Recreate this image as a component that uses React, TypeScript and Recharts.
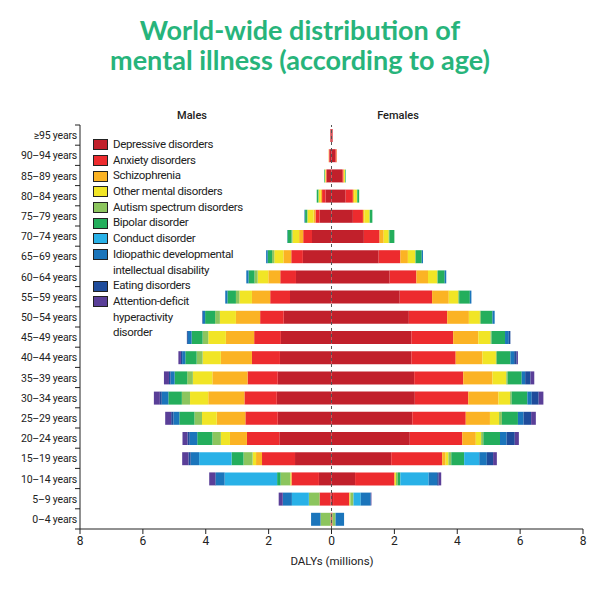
import React from 'react';
import { BarChart, Bar, XAxis, YAxis, ReferenceLine } from 'recharts';

// age groups, top to bottom
const ageGroups = [
  '≥95 years', '90–94 years', '85–89 years', '80–84 years', '75–79 years',
  '70–74 years', '65–69 years', '60–64 years', '55–59 years', '50–54 years',
  '45–49 years', '40–44 years', '35–39 years', '30–34 years', '25–29 years',
  '20–24 years', '15–19 years', '10–14 years', '5–9 years', '0–4 years',
];

const disorders = [
  'Depressive disorders', 'Anxiety disorders', 'Schizophrenia', 'Other mental disorders',
  'Autism spectrum disorders', 'Bipolar disorder', 'Conduct disorder',
  'Idiopathic developmental intellectual disability', 'Eating disorders',
  'Attention-deficit hyperactivity disorder',
];

const colors = [
  '#c1202b', '#ed2b2e', '#fbb324', '#f1e526', '#8cc55e',
  '#24ae5c', '#29b1e7', '#1b75bb', '#1f4c9b', '#5a3f98',
];

// legend lines (some labels wrap onto two or three lines)
const legendLines = [
  ['Depressive disorders'],
  ['Anxiety disorders'],
  ['Schizophrenia'],
  ['Other mental disorders'],
  ['Autism spectrum disorders'],
  ['Bipolar disorder'],
  ['Conduct disorder'],
  ['Idiopathic developmental', 'intellectual disability'],
  ['Eating disorders'],
  ['Attention-deficit', 'hyperactivity', 'disorder'],
];

const xTicks = [-8, -6, -4, -2, 0, 2, 4, 6, 8];

// DALYs (millions), males, one value per age group
const maleDepressive = [0.03, 0.06, 0.15, 0.19, 0.38, 0.62, 0.91, 1.13, 1.32, 1.52, 1.61, 1.64, 1.71, 1.74, 1.71, 1.66, 1.16, 0.40, 0.03, 0.01];
const maleAnxiety = [0.01, 0.02, 0.02, 0.11, 0.13, 0.28, 0.37, 0.50, 0.63, 0.75, 0.85, 0.89, 0.96, 1.03, 1.03, 1.03, 1.05, 0.87, 0.35, 0.02];
const maleSchizophrenia = [0, 0.01, 0.02, 0.04, 0.06, 0.13, 0.25, 0.38, 0.58, 0.77, 0.90, 0.99, 1.12, 1.15, 0.91, 0.54, 0.19, 0.02, 0, 0];
const maleOther = [0, 0, 0.02, 0.07, 0.19, 0.21, 0.29, 0.34, 0.40, 0.51, 0.56, 0.58, 0.62, 0.58, 0.47, 0.29, 0.11, 0.02, 0, 0];
const maleAutism = [0, 0, 0, 0.01, 0.02, 0.03, 0.07, 0.10, 0.11, 0.15, 0.18, 0.19, 0.18, 0.26, 0.24, 0.27, 0.29, 0.31, 0.34, 0.32];
const maleBipolar = [0, 0, 0.02, 0.05, 0.06, 0.13, 0.14, 0.19, 0.27, 0.32, 0.35, 0.36, 0.40, 0.43, 0.48, 0.48, 0.38, 0.11, 0, 0];
const maleConduct = [0, 0, 0, 0, 0, 0, 0, 0, 0, 0, 0, 0, 0, 0, 0, 0, 1.03, 1.67, 0.54, 0];
const maleIdiopathic = [0, 0, 0, 0, 0.02, 0.01, 0.05, 0.07, 0.07, 0.07, 0.12, 0.10, 0.13, 0.21, 0.19, 0.24, 0.27, 0.28, 0.29, 0.30];
const maleEating = [0, 0, 0, 0, 0, 0, 0, 0, 0, 0.02, 0.03, 0.04, 0.05, 0.06, 0.07, 0.07, 0.07, 0.02, 0, 0];
const maleAdhd = [0, 0, 0, 0, 0, 0, 0, 0, 0, 0, 0, 0.08, 0.16, 0.19, 0.19, 0.16, 0.20, 0.19, 0.13, 0];

// DALYs (millions), females
const femaleDepressive = [0.03, 0.12, 0.34, 0.45, 0.68, 1.03, 1.50, 1.85, 2.17, 2.46, 2.54, 2.54, 2.63, 2.65, 2.57, 2.49, 1.90, 0.75, 0.05, 0.01];
const femaleAnxiety = [0.01, 0.04, 0.04, 0.23, 0.32, 0.50, 0.69, 0.85, 1.03, 1.22, 1.33, 1.41, 1.56, 1.70, 1.70, 1.67, 1.62, 1.25, 0.52, 0.02];
const femaleSchizophrenia = [0, 0.01, 0.02, 0.04, 0.05, 0.13, 0.24, 0.37, 0.53, 0.69, 0.80, 0.85, 0.93, 0.96, 0.77, 0.43, 0.11, 0.02, 0, 0];
const femaleOther = [0, 0, 0.03, 0.09, 0.16, 0.16, 0.23, 0.29, 0.30, 0.35, 0.39, 0.43, 0.44, 0.37, 0.29, 0.17, 0.09, 0.03, 0.03, 0];
const femaleAutism = [0, 0, 0, 0.01, 0.01, 0.02, 0.02, 0.02, 0.03, 0.03, 0.03, 0.03, 0.04, 0.05, 0.09, 0.07, 0.09, 0.06, 0.10, 0.10];
const femaleBipolar = [0, 0, 0.02, 0.06, 0.08, 0.16, 0.19, 0.22, 0.34, 0.37, 0.43, 0.43, 0.45, 0.50, 0.51, 0.53, 0.41, 0.08, 0, 0];
const femaleConduct = [0, 0, 0, 0, 0, 0, 0, 0, 0, 0, 0, 0, 0, 0, 0, 0, 0.48, 0.90, 0.23, 0];
const femaleIdiopathic = [0, 0, 0, 0, 0, 0, 0.04, 0.05, 0.05, 0.07, 0.12, 0.12, 0.11, 0.14, 0.18, 0.21, 0.24, 0.27, 0.32, 0.27];
const femaleEating = [0, 0, 0, 0, 0, 0, 0, 0, 0, 0, 0.05, 0.08, 0.17, 0.22, 0.24, 0.26, 0.20, 0.05, 0, 0];
const femaleAdhd = [0, 0, 0, 0, 0, 0, 0, 0, 0, 0, 0, 0.04, 0.12, 0.15, 0.15, 0.13, 0.12, 0.08, 0.02, 0];

const maleSeries = [maleDepressive, maleAnxiety, maleSchizophrenia, maleOther, maleAutism, maleBipolar, maleConduct, maleIdiopathic, maleEating, maleAdhd];
const femaleSeries = [femaleDepressive, femaleAnxiety, femaleSchizophrenia, femaleOther, femaleAutism, femaleBipolar, femaleConduct, femaleIdiopathic, femaleEating, femaleAdhd];

const data = ageGroups.map((age, row) => {
  const entry: Record<string, string | number> = { age };
  maleSeries.forEach((s, i) => { entry[`m${i}`] = -s[row]; });
  femaleSeries.forEach((s, i) => { entry[`f${i}`] = s[row]; });
  return entry;
});

const BAND_HALF = 10.1;

// label at the band centre, tick marks on the band boundaries
const AgeTick = (props: any) => {
  const { x, y, payload, index } = props;
  return (
    <g>
      <text x={x + 5} y={y} dy={4} textAnchor="end" fontSize={10.5} letterSpacing={-0.2} fill="#222">
        {payload.value}
      </text>
      <line x1={x + 3} x2={x + 8} y1={y + BAND_HALF} y2={y + BAND_HALF} stroke="#222" />
      {index === 0 && <line x1={x + 3} x2={x + 8} y1={y - BAND_HALF} y2={y - BAND_HALF} stroke="#222" />}
    </g>
  );
};

export default function App() {
  return (
    <div style={{ position: 'absolute', left: 0, top: 0, width: 600, height: 600, background: '#fff', fontFamily: 'Roboto, sans-serif', color: '#222' }}>
      <div style={{ position: 'absolute', top: 15, left: 0, width: 600, textAlign: 'center', color: '#27b47b', fontFamily: 'Lato, sans-serif', fontWeight: 700, fontSize: 27, lineHeight: '30px' }}>
        World-wide distribution of<br />mental illness (according to age)
      </div>
      <div style={{ position: 'absolute', top: 109, left: 162, width: 60, textAlign: 'center', fontSize: 11, fontWeight: 500 }}>Males</div>
      <div style={{ position: 'absolute', top: 109, left: 368, width: 60, textAlign: 'center', fontSize: 11, fontWeight: 500 }}>Females</div>

      <div style={{ position: 'absolute', top: 0, left: 0 }}>
        <BarChart
          width={600}
          height={600}
          data={data}
          layout="vertical"
          stackOffset="sign"
          barSize={13}
          margin={{ top: 125, right: 17, bottom: 42, left: 5 }}
        >
          <XAxis
            type="number"
            domain={[-8, 8]}
            ticks={xTicks}
            tickFormatter={(v: number) => String(Math.abs(v))}
            axisLine={{ stroke: '#222' }}
            tickLine={{ stroke: '#222' }}
            tickSize={5}
            tick={{ fontSize: 12, fill: '#222' }}
            height={29}
          />
          <YAxis
            type="category"
            dataKey="age"
            width={75}
            interval={0}
            axisLine={{ stroke: '#222' }}
            tickLine={false}
            tick={<AgeTick />}
          />
          {disorders.map((d, i) => (
            <Bar key={`m${i}`} dataKey={`m${i}`} name={d} stackId="a" fill={colors[i]} isAnimationActive={false} />
          ))}
          {disorders.map((d, i) => (
            <Bar key={`f${i}`} dataKey={`f${i}`} name={d} stackId="a" fill={colors[i]} isAnimationActive={false} />
          ))}
          <ReferenceLine x={0} stroke="#555" strokeDasharray="3 3" />
        </BarChart>
      </div>

      <div style={{ position: 'absolute', top: 554, left: 272, width: 120, textAlign: 'center', fontSize: 11.5 }}>DALYs (millions)</div>

      <div style={{ position: 'absolute', top: 137, left: 93, fontSize: 11.5, letterSpacing: -0.35, lineHeight: '15.7px' }}>
        {legendLines.map((lines, i) =>
          lines.map((line, j) => (
            <div key={`${i}-${j}`} style={{ display: 'flex', alignItems: 'center', height: 15.7 }}>
              <span style={{ display: 'inline-block', width: 13, height: 9, marginRight: 5, background: j === 0 ? colors[i] : 'transparent', border: j === 0 ? '1px solid #222' : '1px solid transparent' }} />
              <span>{line}</span>
            </div>
          ))
        )}
      </div>
    </div>
  );
}
